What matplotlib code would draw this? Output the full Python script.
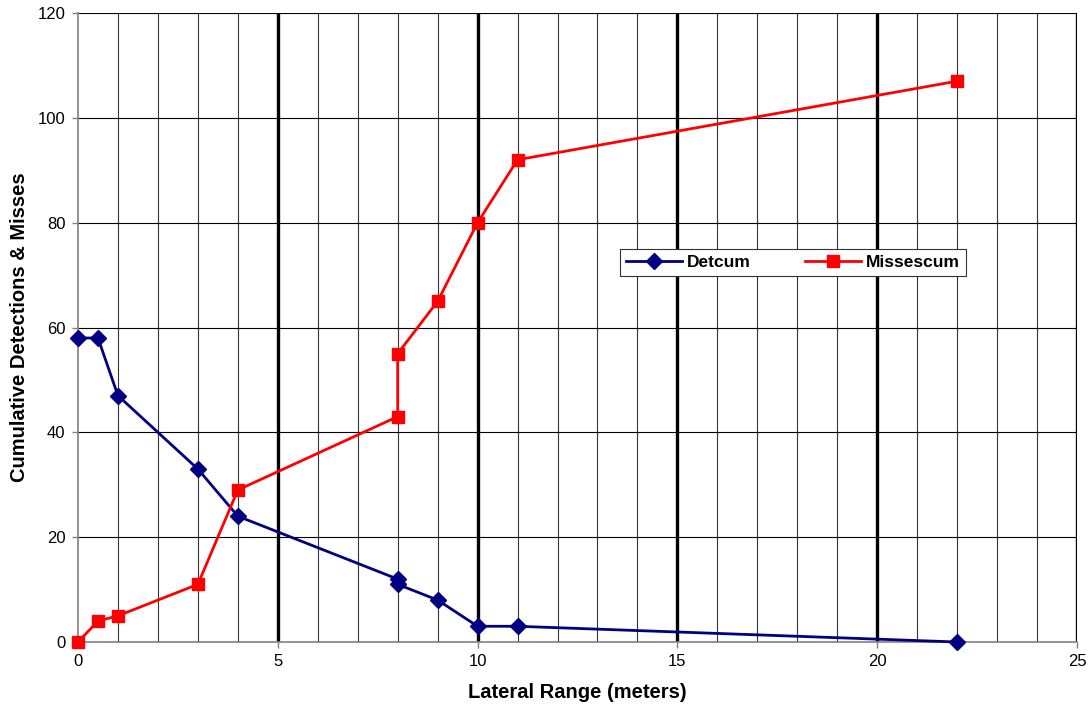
import matplotlib
matplotlib.use("Agg")
import matplotlib.pyplot as plt
import numpy as np

plt.rcParams['font.family'] = ['Liberation Sans', 'DejaVu Sans']

det_x = [0, 0.5, 1, 3, 4, 8, 8, 9, 10, 11, 22]
det_y = [58, 58, 47, 33, 24, 12, 11, 8, 3, 3, 0]
miss_x = [0, 0.5, 1, 3, 4, 8, 8, 9, 10, 11, 22]
miss_y = [0, 4, 5, 11, 29, 43, 55, 65, 80, 92, 107]

x_ticks = [0, 5, 10, 15, 20, 25]
y_ticks = [0, 20, 40, 60, 80, 100, 120]

fig = plt.figure(figsize=(10.91, 7.12), dpi=100)
ax = fig.add_axes([78/1091, 1-642/712, (1077-78)/1091, (642-13)/712])
ax.set_xlim(0, 25)
ax.set_ylim(0, 120)

# grid lines
for xv in range(1, 26):
    if xv % 5 == 0:
        ax.axvline(xv, color='black', lw=2.4, zorder=1)
    else:
        ax.axvline(xv, color='#333333', lw=0.8, zorder=1)
for yv in y_ticks[1:]:
    ax.axhline(yv, color='black', lw=0.8, zorder=1)

ax.plot(det_x, det_y, color='#000080', lw=2, marker='D', markersize=8,
        label='Detcum', zorder=3, clip_on=False)
ax.plot(miss_x, miss_y, color='#FF0000', lw=2, marker='s', markersize=8.5,
        label='Missescum', zorder=3, clip_on=False)

for s in ['top', 'right']:
    ax.spines[s].set_visible(False)
ax.spines['left'].set_color('#808080')
ax.spines['bottom'].set_color('#808080')
ax.spines['left'].set_linewidth(1.2)
ax.spines['bottom'].set_linewidth(1.2)

ax.set_xticks(x_ticks)
ax.set_yticks(y_ticks)
ax.tick_params(axis='both', direction='out', length=4, width=1, color='#808080',
               labelsize=12, pad=5)
ax.set_xlabel('Lateral Range (meters)', fontsize=14.5, fontweight='bold', labelpad=10)
ax.set_ylabel('Cumulative Detections & Misses', fontsize=14.5, fontweight='bold', labelpad=6)

leg = ax.legend(loc='center', bbox_to_anchor=(620/1091, 1-277/712, 346/1091, 29/712),
                bbox_transform=fig.transFigure, ncol=2, mode='expand', frameon=True,
                fancybox=False, edgecolor='#333333', framealpha=1, borderpad=0.35,
                borderaxespad=0, prop={'weight': 'bold', 'size': 12.5},
                handlelength=3.2, handletextpad=0.3, columnspacing=2)
leg.get_frame().set_linewidth(0.8)

fig.savefig('out.png', dpi=100)
